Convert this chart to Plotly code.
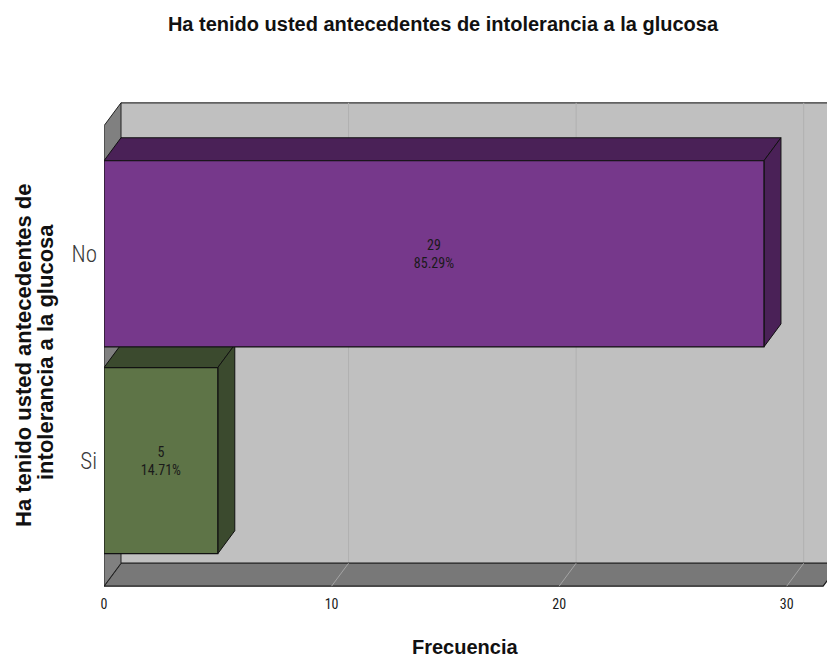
import plotly.graph_objects as go

# ---- data -------------------------------------------------------------
categorias = ["Si", "No"]
frecuencias = [5, 29]
colores_frente = ["#5E7447", "#76388B"]
colores_lado = ["#3B4A2E", "#4A2157"]
ticks_x = [0, 10, 20, 30]

titulo = "Ha tenido usted antecedentes de intolerancia a la glucosa"
titulo_y = ["Ha tenido usted antecedentes de", "intolerancia a la glucosa"]
titulo_x = "Frecuencia"

total = sum(frecuencias)
porcentajes = [f / total * 100 for f in frecuencias]
posiciones = list(range(len(categorias)))

# ---- 3D box geometry (data units) -------------------------------------
ANCHO = 0.9            # bar thickness along the category axis
DX, DY = 0.747, 0.111  # depth offset of the back plane
X_FIN = 31.6           # right end of the floor (front plane)
Y_MIN, Y_MAX = -0.607, 1.730
RANGO_X = [0, 31.77]
RANGO_Y = [Y_MIN - 0.004, Y_MAX + 0.004]

NARROW = "Roboto Condensed, DejaVu Sans Condensed, sans-serif"
BOLD = "Liberation Sans, Arial, sans-serif"

W, H = 827, 659
M_L, M_R, M_T, M_B = 104, 0, 102, 72
PW, PH = W - M_L - M_R, H - M_T - M_B


def px_a_paper(px, py):
    return (px - M_L) / PW, (H - M_B - py) / PH


def poligono(puntos):
    return "M " + " L ".join(f"{x},{y}" for x, y in puntos) + " Z"


shapes = []
# back wall
shapes.append(dict(type="rect", xref="x", yref="y", layer="below",
                   x0=DX, x1=X_FIN + DX + 2, y0=Y_MIN + DY, y1=Y_MAX,
                   fillcolor="#C0C0C0", line=dict(width=0)))
shapes.append(dict(type="line", xref="x", yref="y", layer="below",
                   x0=DX, x1=X_FIN + DX + 2, y0=Y_MAX, y1=Y_MAX,
                   line=dict(color="#333333", width=1.2)))
# grid lines on the back wall
for t in ticks_x[1:]:
    shapes.append(dict(type="line", xref="x", yref="y", layer="below",
                       x0=t + DX, x1=t + DX, y0=Y_MIN + DY, y1=Y_MAX,
                       line=dict(color="#B0B0B0", width=1)))
# floor
shapes.append(dict(type="path", xref="x", yref="y", layer="below",
                   path=poligono([(0, Y_MIN), (X_FIN, Y_MIN),
                                  (X_FIN + DX, Y_MIN + DY), (DX, Y_MIN + DY)]),
                   fillcolor="#787878", line=dict(color="#1A1A1A", width=1.2)))
# grid lines on the floor
for t in ticks_x[1:]:
    shapes.append(dict(type="line", xref="x", yref="y", layer="below",
                       x0=t, x1=t + DX, y0=Y_MIN, y1=Y_MIN + DY,
                       line=dict(color="#A4A4A4", width=1)))
# left wall
shapes.append(dict(type="path", xref="x", yref="y", layer="below",
                   path=poligono([(0, Y_MIN), (0, Y_MAX - DY),
                                  (DX, Y_MAX), (DX, Y_MIN + DY)]),
                   fillcolor="#808080", line=dict(color="#222222", width=1)))

# top and side faces of each bar, derived from the values
for yc, v, col in zip(posiciones, frecuencias, colores_lado):
    arriba, abajo = yc + ANCHO / 2, yc - ANCHO / 2
    shapes.append(dict(type="path", xref="x", yref="y", layer="below",
                       path=poligono([(0, arriba), (v, arriba),
                                      (v + DX, arriba + DY), (DX, arriba + DY)]),
                       fillcolor=col, line=dict(color="#111111", width=1)))
    shapes.append(dict(type="path", xref="x", yref="y", layer="below",
                       path=poligono([(v, abajo), (v, arriba),
                                      (v + DX, arriba + DY), (v + DX, abajo + DY)]),
                       fillcolor=col, line=dict(color="#111111", width=1)))

fig = go.Figure()
fig.add_trace(go.Bar(
    y=posiciones, x=frecuencias, orientation="h", width=ANCHO,
    marker=dict(color=colores_frente, line=dict(color="#111111", width=1.2)),
    customdata=porcentajes,
    texttemplate="%{x}<br>%{customdata:.2f}%",
    textposition="inside", insidetextanchor="middle", textangle=0,
    constraintext="none",
    textfont=dict(family=NARROW, size=14, color="#1A1A1A"),
    hoverinfo="skip",
))

ax, ay = px_a_paper(465, 647)
y1x, y1y = px_a_paper(23, 355)
y2x, y2y = px_a_paper(45, 352)

fig.update_layout(
    width=W, height=H,
    margin=dict(l=M_L, r=M_R, t=M_T, b=M_B),
    paper_bgcolor="white", plot_bgcolor="white",
    showlegend=False,
    shapes=shapes,
    title=dict(text=titulo, x=443 / W, xanchor="center", y=1 - 24 / H, yanchor="middle",
               font=dict(family=BOLD, size=20, color="#111111", weight="bold")),
    xaxis=dict(range=RANGO_X, tickvals=ticks_x, ticks="", showgrid=False,
               zeroline=False, showline=False, fixedrange=True,
               ticklabelstandoff=7,
               tickfont=dict(family=NARROW, size=14, color="#1A1A1A")),
    yaxis=dict(range=RANGO_Y, tickvals=posiciones, ticktext=categorias, ticks="",
               showgrid=False, zeroline=False, showline=False, fixedrange=True,
               ticklabelstandoff=6,
               tickfont=dict(family=NARROW, size=23, color="#3A3A3A", weight=300)),
    annotations=[
        dict(text=titulo_x, xref="paper", yref="paper", x=ax, y=ay,
             xanchor="center", yanchor="middle", showarrow=False,
             font=dict(family=BOLD, size=20, color="#111111", weight="bold")),
        dict(text=titulo_y[0], xref="paper", yref="paper", x=y1x, y=y1y,
             xanchor="center", yanchor="middle", showarrow=False, textangle=-90,
             font=dict(family=BOLD, size=22, color="#111111", weight="bold")),
        dict(text=titulo_y[1], xref="paper", yref="paper", x=y2x, y=y2y,
             xanchor="center", yanchor="middle", showarrow=False, textangle=-90,
             font=dict(family=BOLD, size=22, color="#111111", weight="bold")),
    ],
)

fig.write_html("out.html")
